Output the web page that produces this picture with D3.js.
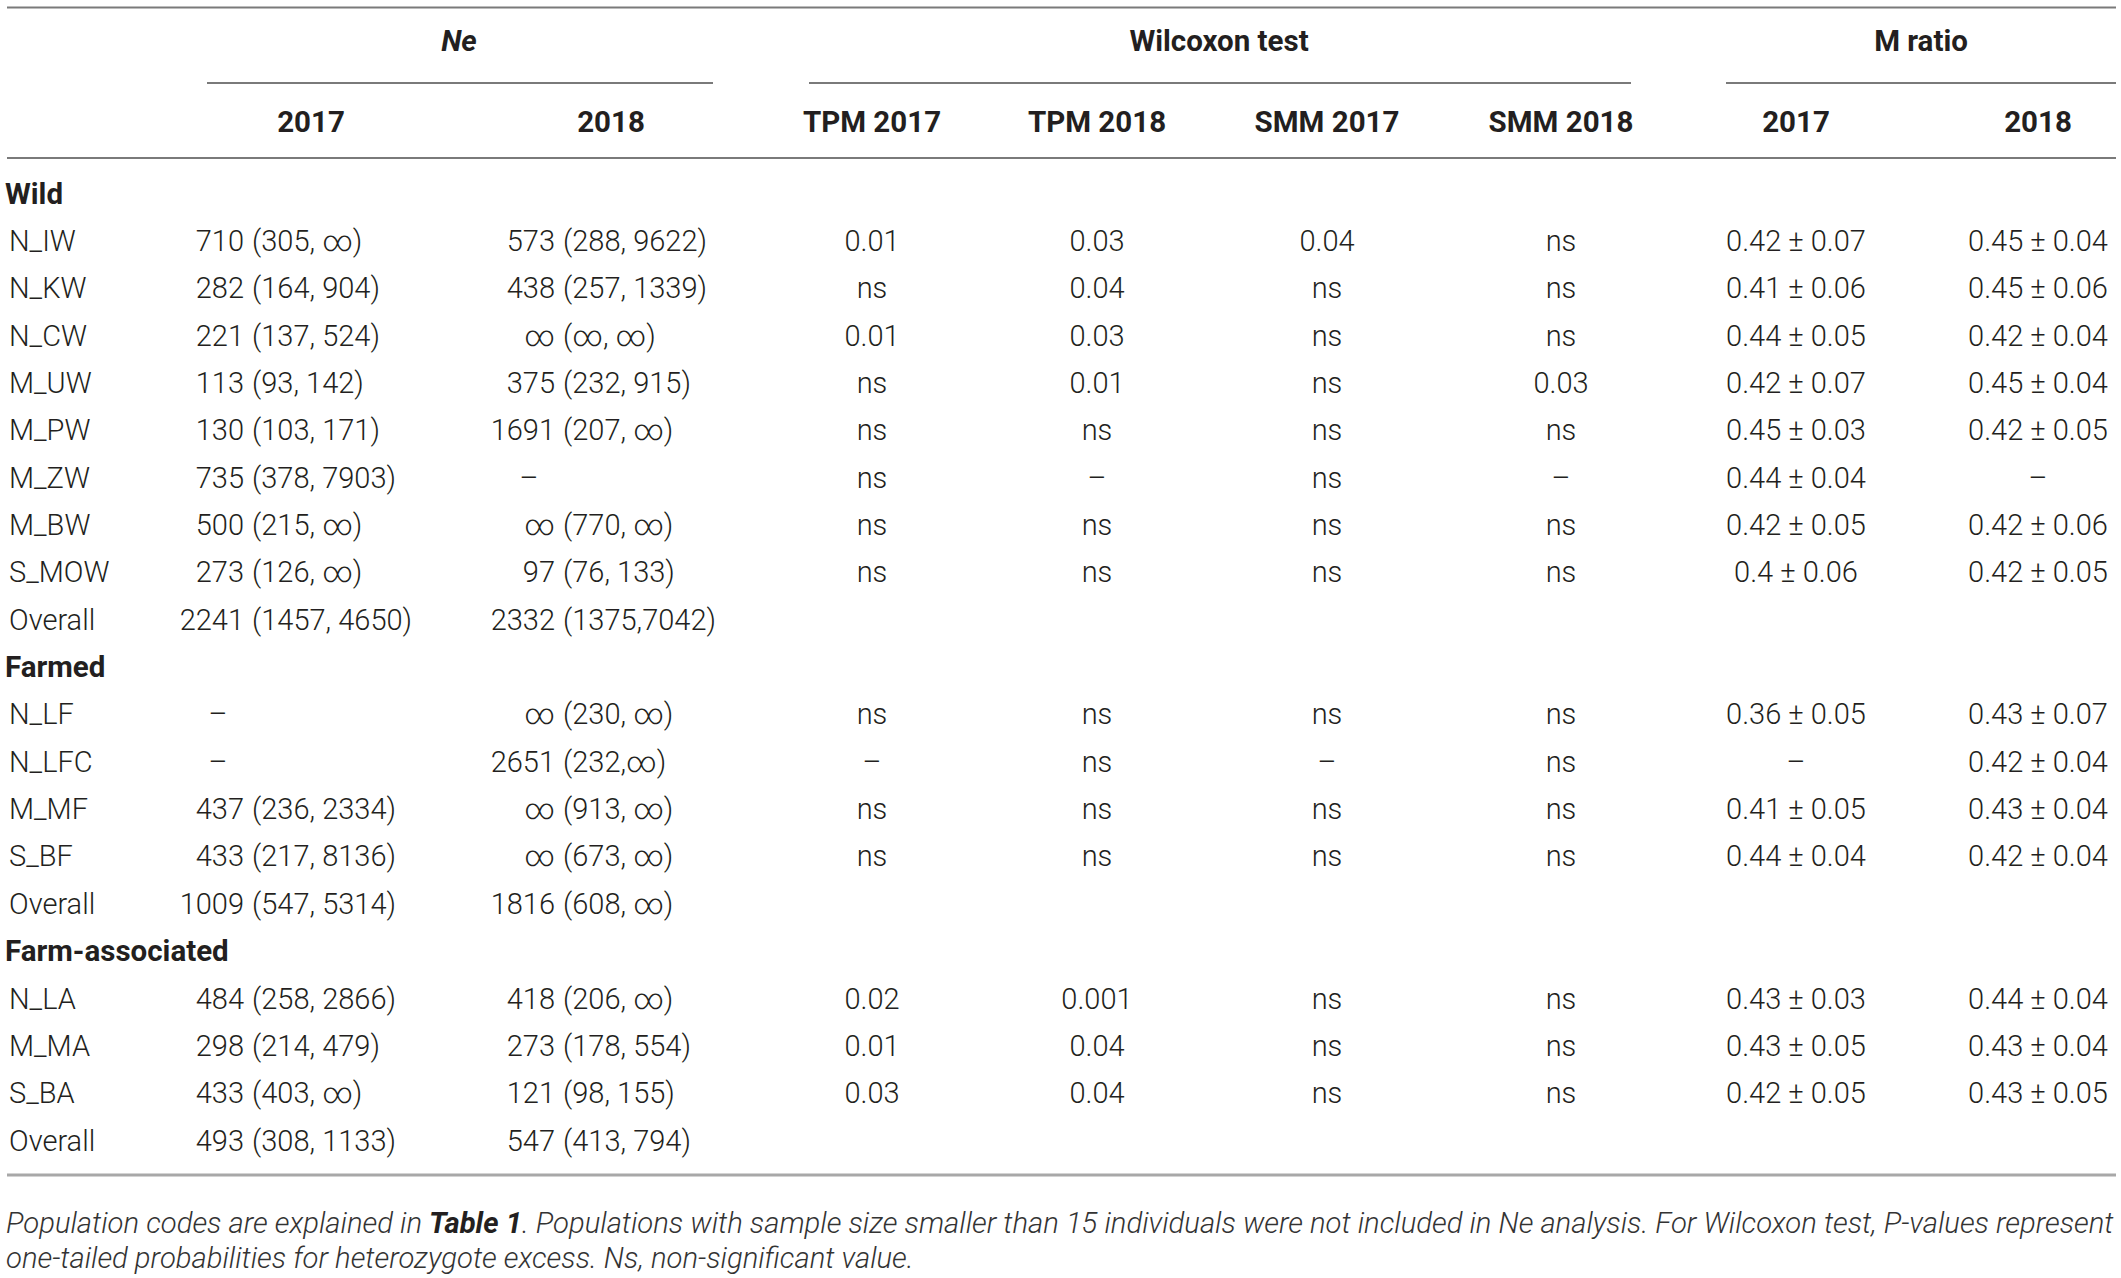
<!DOCTYPE html>
<html>
<head>
<meta charset="utf-8">
<script src="https://cdn.jsdelivr.net/npm/d3@7"></script>
<style>
  html, body { margin: 0; padding: 0; background: #fff; }
  svg { display: block; }
</style>
</head>
<body>
<div id="ch"></div>
<script>
// Ne, Wilcoxon test and M ratio table drawn with D3

const groupNames = ["Wild", "Farmed", "Farm-associated"];
const populations = ["N_IW", "N_KW", "N_CW", "M_UW", "M_PW", "M_ZW", "M_BW", "S_MOW",
  "N_LF", "N_LFC", "M_MF", "S_BF",
  "N_LA", "M_MA", "S_BA"];
const popGroup = [0, 0, 0, 0, 0, 0, 0, 0, 1, 1, 1, 1, 2, 2, 2];

const ne2017 = ["710 (305, ∞)", "282 (164, 904)", "221 (137, 524)", "113 (93, 142)", "130 (103, 171)",
  "735 (378, 7903)", "500 (215, ∞)", "273 (126, ∞)",
  "–", "–", "437 (236, 2334)", "433 (217, 8136)",
  "484 (258, 2866)", "298 (214, 479)", "433 (403, ∞)"];
const ne2018 = ["573 (288, 9622)", "438 (257, 1339)", "∞ (∞, ∞)", "375 (232, 915)", "1691 (207, ∞)",
  "–", "∞ (770, ∞)", "97 (76, 133)",
  "∞ (230, ∞)", "2651 (232,∞)", "∞ (913, ∞)", "∞ (673, ∞)",
  "418 (206, ∞)", "273 (178, 554)", "121 (98, 155)"];
const overall2017 = ["2241 (1457, 4650)", "1009 (547, 5314)", "493 (308, 1133)"];
const overall2018 = ["2332 (1375,7042)", "1816 (608, ∞)", "547 (413, 794)"];

const tpm2017 = ["0.01", "ns", "0.01", "ns", "ns", "ns", "ns", "ns", "ns", "–", "ns", "ns", "0.02", "0.01", "0.03"];
const tpm2018 = ["0.03", "0.04", "0.03", "0.01", "ns", "–", "ns", "ns", "ns", "ns", "ns", "ns", "0.001", "0.04", "0.04"];
const smm2017 = ["0.04", "ns", "ns", "ns", "ns", "ns", "ns", "ns", "ns", "–", "ns", "ns", "ns", "ns", "ns"];
const smm2018 = ["ns", "ns", "ns", "0.03", "ns", "–", "ns", "ns", "ns", "ns", "ns", "ns", "ns", "ns", "ns"];
const mRatio2017 = ["0.42 ± 0.07", "0.41 ± 0.06", "0.44 ± 0.05", "0.42 ± 0.07", "0.45 ± 0.03", "0.44 ± 0.04",
  "0.42 ± 0.05", "0.4 ± 0.06", "0.36 ± 0.05", "–", "0.41 ± 0.05", "0.44 ± 0.04",
  "0.43 ± 0.03", "0.43 ± 0.05", "0.42 ± 0.05"];
const mRatio2018 = ["0.45 ± 0.04", "0.45 ± 0.06", "0.42 ± 0.04", "0.45 ± 0.04", "0.42 ± 0.05", "–",
  "0.42 ± 0.06", "0.42 ± 0.05", "0.43 ± 0.07", "0.42 ± 0.04", "0.43 ± 0.04", "0.42 ± 0.04",
  "0.44 ± 0.04", "0.43 ± 0.04", "0.43 ± 0.05"];

const topHeaders = ["Ne", "Wilcoxon test", "M ratio"];
const subHeaders = ["2017", "2018", "TPM 2017", "TPM 2018", "SMM 2017", "SMM 2018", "2017", "2018"];

const footLine1 = [["Population codes are explained in ", 300], ["Table 1", 700],
  [". Populations with sample size smaller than 15 individuals were not included in Ne analysis. For Wilcoxon test, P-values represent", 300]];
const footLine2 = [["one-tailed probabilities for heterozygote excess. Ns, non-significant value.", 300]];

/* Build rows */
const rows = [];
groupNames.forEach((g, gi) => {
  rows.push({ type: "group", label: g });
  populations.forEach((p, i) => {
    if (popGroup[i] !== gi) return;
    rows.push({
      type: "pop", label: p,
      ne: [ne2017[i], ne2018[i]],
      cells: [tpm2017[i], tpm2018[i], smm2017[i], smm2018[i], mRatio2017[i], mRatio2018[i]]
    });
  });
  rows.push({ type: "overall", label: "Overall", ne: [overall2017[gi], overall2018[gi]], cells: [] });
});

/* Dimensions */
const width = 2121, height = 1278;
const left = 7, right = 2116;
const fs = 29, fsHead = 29.5;
const ink = "#231f20", rule = "#7a7a7a";
const font = "Roboto, 'Liberation Sans', sans-serif";

const svg = d3.select("#ch").append("svg")
  .attr("width", width).attr("height", height)
  .style("font-family", font);

const y = d3.scalePoint().domain(d3.range(rows.length)).range([193.4, 1140.4]);
const cellX = d3.scaleOrdinal().domain(d3.range(6)).range([872, 1097, 1327, 1561, 1796, 2038]);
const subX = d3.scaleOrdinal().domain(d3.range(8)).range([311, 611, 872, 1097, 1327, 1561, 1796, 2038]);
const topX = d3.scaleOrdinal().domain(d3.range(3)).range([459, 1219, 1921]);
const topSpan = [[207, 713], [809, 1631], [1726, right]];
const neEdge = [244, 555];

const base = (cy, size) => cy + size * 0.35;

/* Rules */
const hline = (x1, x2, yy, w, c) => svg.append("line")
  .attr("x1", x1).attr("x2", x2).attr("y1", yy).attr("y2", yy)
  .attr("stroke", c).attr("stroke-width", w);

hline(left, right, 7.5, 2, rule);
topSpan.forEach(s => hline(s[0], s[1], 83, 2, rule));
hline(left, right, 158, 2, rule);
hline(left, right, 1175, 3, "#a8a8a8");

/* Headers */
svg.selectAll(".top").data(topHeaders).enter().append("text")
  .attr("x", (d, i) => topX(i)).attr("y", base(41, fsHead))
  .attr("text-anchor", "middle")
  .style("font-size", fsHead + "px").style("font-weight", 700)
  .style("font-style", (d, i) => i === 0 ? "italic" : "normal")
  .attr("fill", ink).text(d => d);

svg.selectAll(".sub").data(subHeaders).enter().append("text")
  .attr("x", (d, i) => subX(i)).attr("y", base(122, fsHead))
  .attr("text-anchor", "middle")
  .style("font-size", fsHead + "px").style("font-weight", 700)
  .attr("fill", ink).text(d => d);

/* Body */
const body = svg.append("g").style("font-size", fs + "px").attr("fill", ink);

rows.forEach((r, i) => {
  const by = base(y(i), fs);
  body.append("text")
    .attr("x", r.type === "group" ? 5 : 9).attr("y", by)
    .style("font-weight", r.type === "group" ? 700 : 300)
    .style("font-size", r.type === "group" ? fsHead + "px" : null)
    .text(r.label);
  if (r.type === "group") return;

  r.ne.forEach((v, k) => {
    const p = v.indexOf(" (");
    if (p < 0) {
      body.append("text").attr("x", neEdge[k] - 26).attr("y", by)
        .attr("text-anchor", "middle").style("font-weight", 300).text(v);
      return;
    }
    body.append("text").attr("x", neEdge[k]).attr("y", by)
      .attr("text-anchor", "end").style("font-weight", 300).text(v.slice(0, p));
    body.append("text").attr("x", neEdge[k] + 8).attr("y", by)
      .attr("text-anchor", "start").style("font-weight", 300).text(v.slice(p + 1));
  });

  body.selectAll(null).data(r.cells).enter().append("text")
    .attr("x", (d, k) => cellX(k)).attr("y", by)
    .attr("text-anchor", "middle").style("font-weight", 300)
    .text(d => d);
});

/* Footnote */
const foot = svg.append("g").attr("fill", "#333").style("font-style", "italic");
let footSize = 26;
const lines = [[footLine1, 1223], [footLine2, 1258]].map(([parts, cy]) => {
  const t = foot.append("text").attr("x", 6).attr("y", base(cy, footSize))
    .style("font-size", footSize + "px");
  t.selectAll("tspan").data(parts).enter().append("tspan")
    .style("font-weight", d => d[1])
    .attr("fill", d => d[1] === 700 ? ink : null)
    .text(d => d[0]);
  return [t, cy];
});
// fit first footnote line to table width
const w1 = lines[0][0].node().getComputedTextLength();
footSize = footSize * (right - 8) / w1;
lines.forEach(([t, cy]) => t.style("font-size", footSize + "px").attr("y", base(cy, footSize)));
</script>
</body>
</html>
